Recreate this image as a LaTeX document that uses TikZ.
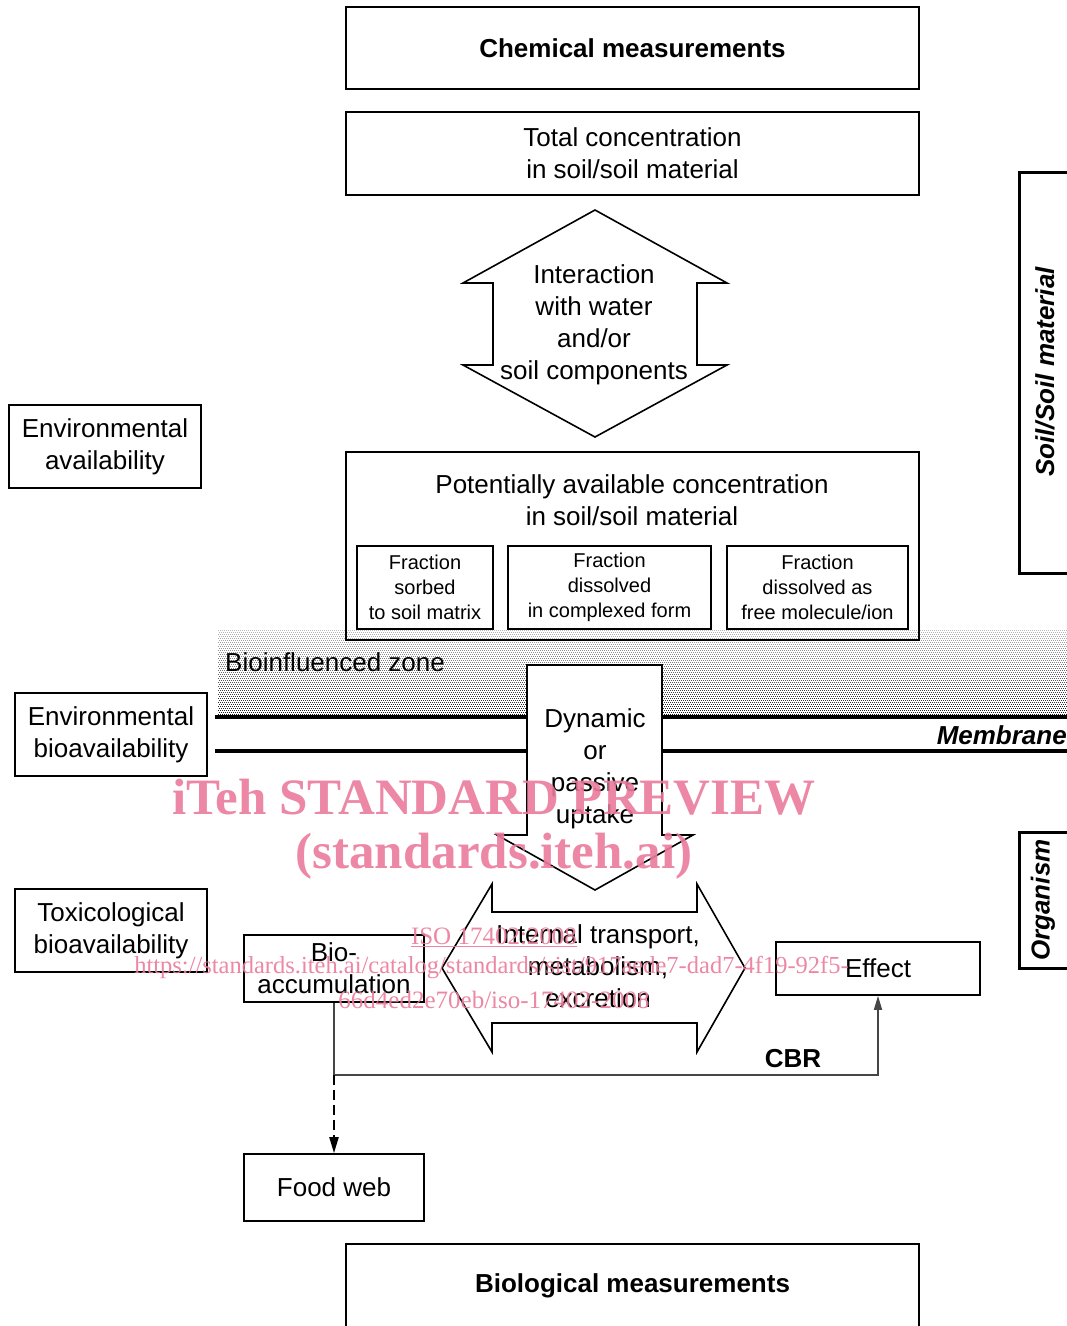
\documentclass[tikz,border=0pt]{standalone}
\usepackage{fontspec}
\setmainfont{Liberation Sans}
\newfontfamily\wmfont{Liberation Serif}
\usetikzlibrary{arrows.meta}
\definecolor{wmpink}{RGB}{234,122,156}
\definecolor{cgray}{RGB}{70,70,70}
\newcommand\mainfs{\fontsize{26}{32}\selectfont}
\newcommand\smallfs{\fontsize{20}{25}\selectfont}
\begin{document}
\begin{tikzpicture}[x=1pt,y=-1pt,
  box/.style={draw, line width=1.6, inner sep=0, align=center, font=\mainfs},
  fbox/.style={draw, line width=1.6, inner sep=0, align=center, font=\smallfs, minimum height=83},
  txt/.style={inner sep=0, align=center, font=\mainfs},
  arrowshape/.style={draw, line width=1.6, line join=miter, fill=white},
  brack/.style={line width=3, line join=miter},
  wm/.style={inner sep=0, text=wmpink, opacity=0.9, align=center}]
\clip (0,0) rectangle (1067,1326);
% bioinfluenced zone stipple
\foreach \i in {0,...,42} {
  \pgfmathsetmacro\yy{630+2*\i}
  \pgfmathtruncatemacro\k{28+1.5*\i}
  \pgfmathsetmacro\ph{mod(\i,2)}
  \draw[black!\k, line width=1, dash pattern=on 1pt off 1pt, dash phase=\ph pt] (218,\yy) -- (1067,\yy);
}
% membrane lines
\draw[line width=4] (215,717) -- (1067,717);
\draw[line width=4] (215,751) -- (1067,751);

\node[box, minimum width=573, minimum height=82, font=\mainfs\bfseries] (chem) at (632.5,48) {Chemical measurements};
\node[box, minimum width=573, minimum height=83] (total) at (632.5,153.5) {Total concentration\\in soil/soil material};
\draw[arrowshape] (595,210) -- (727,283) -- (697,283) -- (697,365) -- (727,365) -- (595,437) -- (463,365) -- (493,365) -- (493,283) -- (463,283) -- cycle;
\node[txt] (inter) at (594,325) {Interaction\\with water\\and/or\\soil components};

\node[box, minimum width=192, minimum height=83] (envav) at (105,446.5) {Environmental\\availability};

\node[draw, line width=1.6, inner sep=0, minimum width=573, minimum height=188] (pot) at (632.5,546) {};
\node[txt] (pottitle) at (632,500) {Potentially available concentration\\in soil/soil material};
\node[fbox, fill=white, minimum width=136] (f1) at (425,587.5) {Fraction\\sorbed\\to soil matrix};
\node[fbox, fill=white, minimum width=203] (f2) at (609.5,587.5) {Fraction\\dissolved\\in complexed form};
\node[fbox, fill=white, minimum width=181] (f3) at (817.5,587.5) {Fraction\\dissolved as\\free molecule/ion};

\node[txt, anchor=west] (bioz) at (225,662) {Bioinfluenced zone};
\node[inner sep=0, anchor=east, font=\mainfs\bfseries\itshape] (mem) at (1067,735) {Membrane};

\draw[arrowshape] (527,665) -- (662,665) -- (662,835) -- (693,835) -- (595,890) -- (497,835) -- (527,835) -- cycle;
\node[txt] (dyn) at (595,768.5) {Dynamic\\or\\passive\\uptake};

\node[box, minimum width=192, minimum height=83] (envbio) at (111,734.5) {Environmental\\bioavailability};
\node[box, minimum width=192, minimum height=83] (toxbio) at (111,930.5) {Toxicological\\bioavailability};

\draw[arrowshape] (442,968) -- (492,884) -- (492,912) -- (697,912) -- (697,884) -- (745,968) -- (697,1052) -- (697,1023) -- (492,1023) -- (492,1052) -- cycle;
\node[txt] (intl) at (598,966) {Internal transport,\\metabolism,\\excretion};

\node[box, minimum width=180, minimum height=67] (bioacc) at (334,968.5) {Bio-\\accumulation};
\node[box, minimum width=204, minimum height=53] (eff) at (878,968.5) {Effect};
\node[box, minimum width=180, minimum height=67] (food) at (334,1187.5) {Food web};

\coordinate (j) at (334,1075);
\draw[cgray, line width=1.5, -{Triangle[width=8pt,length=14pt]}] (bioacc.south) -- (j) -| (eff.south);
\node[inner sep=0, font=\mainfs\bfseries] (cbr) at (793,1059) {CBR};
\draw[line width=2, dash pattern=on 10pt off 5pt, -{Triangle[width=9pt,length=16pt]}] (j) -- (food.north);

\node[box, minimum width=573, minimum height=84, font=\mainfs\bfseries] (biol) at (632.5,1286) {Biological measurements};

% right brackets
\draw[brack] (1070,172) -- (1019,172) -- (1019,573) -- (1070,573);
\node[inner sep=0, rotate=90, font=\mainfs\bfseries\itshape] (soil) at (1045,372) {Soil/Soil material};
\draw[brack] (1070,832) -- (1019,832) -- (1019,968) -- (1070,968);
\node[inner sep=0, rotate=90, font=\mainfs\bfseries\itshape] (org) at (1043,900) {Organism};

% watermark
\node[wm, font=\wmfont\fontsize{51}{60}\selectfont\bfseries] (wm1) at (494,797) {iTeh STANDARD PREVIEW};
\node[wm, font=\wmfont\fontsize{51}{60}\selectfont\bfseries] (wm2) at (494,856) {(standards.iteh.ai)};
\node[wm, font=\wmfont\fontsize{25}{30}\selectfont] (wm3) at (494,937) {\underline{ISO 17402:2008}};
\node[wm, font=\wmfont\fontsize{24.5}{30}\selectfont] (wm4) at (491.5,968) {https://standards.iteh.ai/catalog/standards/sist/917aede7-dad7-4f19-92f5-};
\node[wm, font=\wmfont\fontsize{25}{30}\selectfont] (wm5) at (494,1000) {66d4ed2e70eb/iso-17402-2008};
\end{tikzpicture}
\end{document}
